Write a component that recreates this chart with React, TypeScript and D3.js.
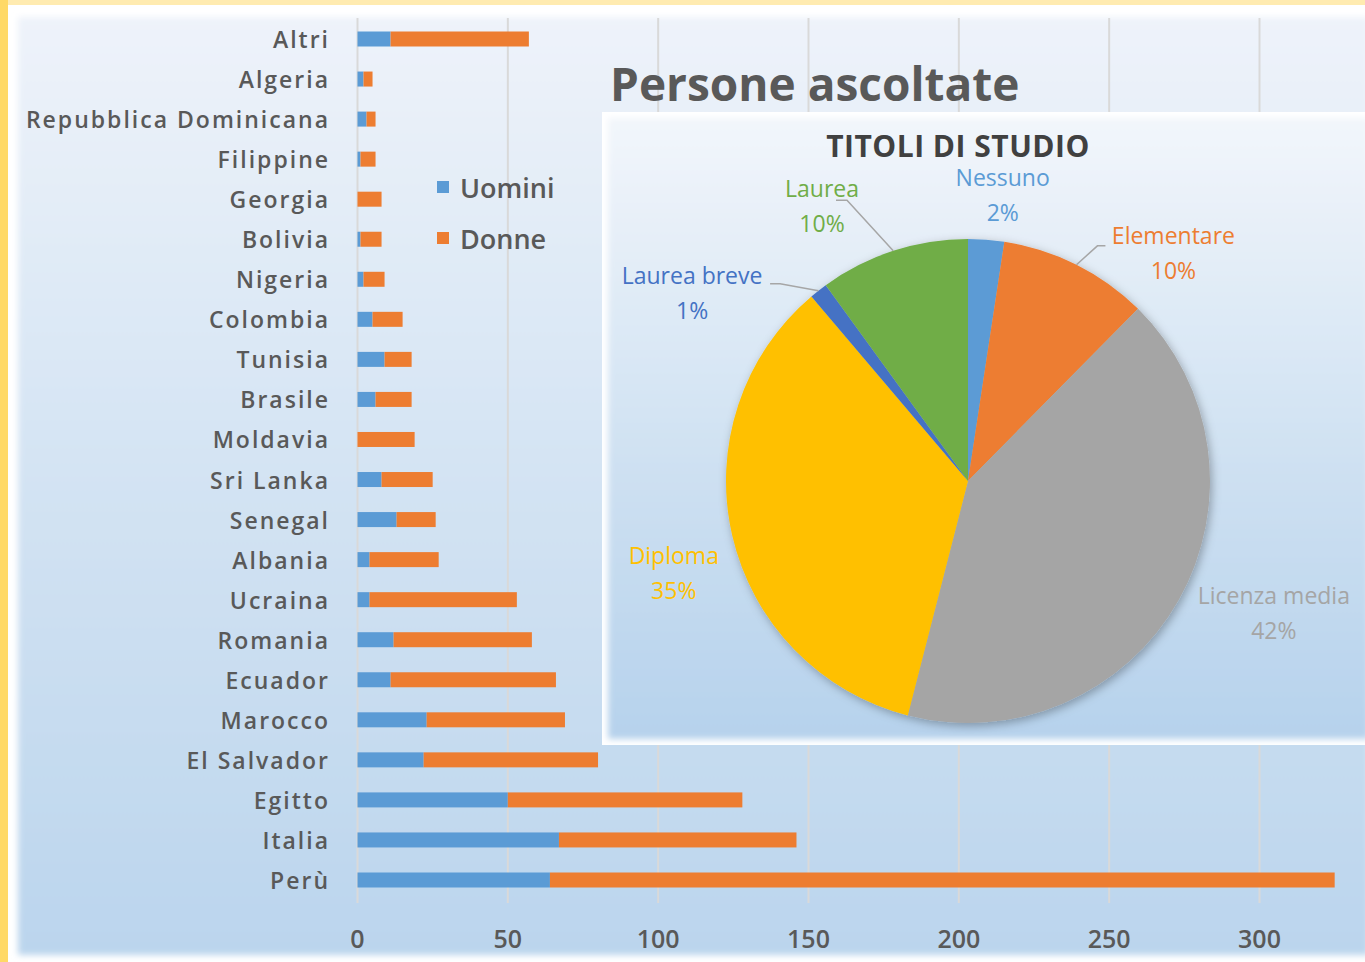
import React from 'react';
import { scaleLinear, scalePoint, pie, arc } from 'd3';

// data: persone ascoltate per paese (top to bottom)
const countries = [
  'Altri', 'Algeria', 'Repubblica Dominicana', 'Filippine', 'Georgia', 'Bolivia', 'Nigeria',
  'Colombia', 'Tunisia', 'Brasile', 'Moldavia', 'Sri Lanka', 'Senegal', 'Albania',
  'Ucraina', 'Romania', 'Ecuador', 'Marocco', 'El Salvador', 'Egitto', 'Italia', 'Perù',
];
const uomini = [11, 2, 3, 1, 0, 1, 2, 5, 9, 6, 0, 8, 13, 4, 4, 12, 11, 23, 22, 50, 67, 64];
const donne = [46, 3, 3, 5, 8, 7, 7, 10, 9, 12, 19, 17, 13, 23, 49, 46, 55, 46, 58, 78, 79, 261];
const xTicks = [0, 50, 100, 150, 200, 250, 300];

// data: titoli di studio (percent)
const titoli = ['Nessuno', 'Elementare', 'Licenza media', 'Diploma', 'Laurea breve', 'Laurea'];
const titoliPct = [2.4, 10.0, 41.6, 34.8, 1.2, 10.0];
const titoliColors = ['#5B9BD5', '#ED7D31', '#A5A5A5', '#FFC000', '#4472C4', '#70AD47'];

// label placement (polar from pie centre, degrees clockwise from top) + leader elbows
const labelPlace = {
  'Nessuno': { a: 6.9, r: 289 },
  'Elementare': { a: 42, r: 307, lead: [-68, -7, -76, -7] },
  'Licenza media': { a: 113.3, r: 333 },
  'Diploma': { a: 252.8, r: 308 },
  'Laurea breve': { a: 304.3, r: 334, lead: [78, -9, 88, -9] },
  'Laurea': { a: 332.1, r: 312, lead: [14, -5, 25, -5] },
};

const BLUE = '#5B9BD5';
const ORANGE = '#ED7D31';
const TEXT = '#595959';

export default function App() {
  const W = 1365;
  const H = 962;

  const x = scaleLinear().domain([0, 300]).range([357.5, 1259.5]);
  const y = scalePoint().domain(countries).range([39, 880]);
  const barH = 15;

  const cx = 968;
  const cy = 481;
  const R = 242;
  const pieGen = pie().sort(null).value(d => d.v);
  const slices = pieGen(titoli.map((t, i) => ({ t, v: titoliPct[i], c: titoliColors[i] })));
  const arcGen = arc().innerRadius(0).outerRadius(R);

  const polar = (deg, r) => {
    const rad = (deg * Math.PI) / 180;
    return [cx + r * Math.sin(rad), cy - r * Math.cos(rad)];
  };

  return (
    <div style={{ position: 'absolute', left: 0, top: 0 }}>
      <svg width={W} height={H} style={{ display: 'block' }}>
        <defs>
          <linearGradient id="bgGrad" x1="0" y1="0" x2="0" y2="1">
            <stop offset="0" stopColor="#EEF3FA" />
            <stop offset="0.5" stopColor="#D3E3F3" />
            <stop offset="1" stopColor="#BBD5ED" />
          </linearGradient>
          <linearGradient id="pieGrad" x1="0" y1="0" x2="0" y2="1">
            <stop offset="0" stopColor="#F2F6FB" />
            <stop offset="0.55" stopColor="#CFE1F2" />
            <stop offset="1" stopColor="#B6D2EC" />
          </linearGradient>
          <filter id="soft" x="-5%" y="-5%" width="110%" height="110%">
            <feGaussianBlur stdDeviation="3" />
          </filter>
          <filter id="shadow" x="-20%" y="-20%" width="140%" height="140%">
            <feDropShadow dx="2" dy="3" stdDeviation="5" floodColor="#000" floodOpacity="0.3" />
          </filter>
        </defs>

        {/* frame */}
        <rect width={W} height={H} fill="#FFEBB0" />
        <rect x={0} y={0} width={8} height={H} fill="#FFD966" />
        <rect x={8} y={5} width={W - 8} height={H - 5} fill="#fff" />
        <rect x={18} y={17} width={W - 14} height={938} fill="url(#bgGrad)" filter="url(#soft)" />

        {/* grid */}
        {xTicks.map(t => (
          <line key={t} x1={x(t)} x2={x(t)} y1={18} y2={903} stroke="#D9D9D9" strokeWidth={2} />
        ))}

        {/* bars */}
        {countries.map((c, i) => (
          <g key={c}>
            <rect x={x(0)} y={y(c) - barH / 2} width={x(uomini[i]) - x(0)} height={barH} fill={BLUE} />
            <rect
              x={x(uomini[i])}
              y={y(c) - barH / 2}
              width={x(uomini[i] + donne[i]) - x(uomini[i])}
              height={barH}
              fill={ORANGE}
            />
            <text
              x={330}
              y={y(c)}
              textAnchor="end"
              dominantBaseline="central"
              fontFamily="Open Sans"
              fontWeight={600}
              fontSize={23}
              letterSpacing={2}
              fill={TEXT}>
              {c}
            </text>
          </g>
        ))}

        {/* x axis labels */}
        {xTicks.map(t => (
          <text
            key={t}
            x={x(t)}
            y={938}
            textAnchor="middle"
            dominantBaseline="central"
            fontFamily="Open Sans"
            fontWeight={600}
            fontSize={25}
            fill={TEXT}>
            {t}
          </text>
        ))}

        {/* legend */}
        <rect x={437} y={181} width={12} height={12} fill={BLUE} />
        <text x={460} y={187} dominantBaseline="central" fontFamily="Open Sans" fontWeight={600} fontSize={27} fill={TEXT}>
          Uomini
        </text>
        <rect x={437} y={232} width={12} height={12} fill={ORANGE} />
        <text x={460} y={238} dominantBaseline="central" fontFamily="Open Sans" fontWeight={600} fontSize={27} fill={TEXT}>
          Donne
        </text>

        {/* main title */}
        <text x={610} y={83} dominantBaseline="central" fontFamily="Open Sans" fontWeight={700} fontSize={46} fill={TEXT}>
          Persone ascoltate
        </text>

        {/* pie inset */}
        <rect x={602} y={112} width={W - 602} height={633} fill="#fff" />
        <rect x={608} y={118} width={W - 604} height={621} fill="url(#pieGrad)" filter="url(#soft)" />
        <text
          x={958}
          y={145}
          textAnchor="middle"
          dominantBaseline="central"
          fontFamily="Open Sans"
          fontWeight={700}
          fontSize={30}
          letterSpacing={0.5}
          fill="#404040">
          TITOLI DI STUDIO
        </text>

        <g transform={`translate(${cx},${cy})`} filter="url(#shadow)">
          {slices.map(s => (
            <path key={s.data.t} d={arcGen(s)} fill={s.data.c} />
          ))}
        </g>

        {slices.map(s => {
          const p = labelPlace[s.data.t];
          const [lx, ly] = polar(p.a, p.r);
          const mid = (((s.startAngle + s.endAngle) / 2) * 180) / Math.PI;
          const [ex, ey] = polar(mid, R);
          return (
            <g key={s.data.t}>
              {p.lead && (
                <polyline
                  points={`${lx + p.lead[0]},${ly + p.lead[1]} ${lx + p.lead[2]},${ly + p.lead[3]} ${ex},${ey}`}
                  fill="none"
                  stroke="#A6A6A6"
                  strokeWidth={1.5}
                />
              )}
              <text
                x={lx}
                y={ly - 17.5}
                textAnchor="middle"
                dominantBaseline="central"
                fontFamily="Open Sans"
                fontSize={23}
                fill={s.data.c}>
                {s.data.t}
              </text>
              <text
                x={lx}
                y={ly + 17.5}
                textAnchor="middle"
                dominantBaseline="central"
                fontFamily="Open Sans"
                fontSize={23}
                fill={s.data.c}>
                {Math.round(s.data.v)}%
              </text>
            </g>
          );
        })}
      </svg>
    </div>
  );
}
